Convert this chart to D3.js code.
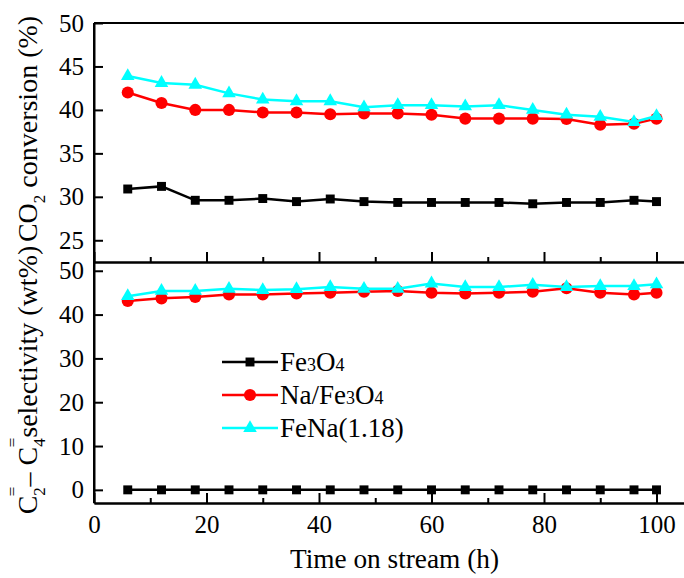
<!DOCTYPE html>
<html>
<head>
<meta charset="utf-8">
<script src="https://cdn.jsdelivr.net/npm/d3@7"></script>
<style>
  html, body { margin: 0; padding: 0; background: #fff; }
  svg text { font-family: "Liberation Serif", "Times New Roman", Times, "DejaVu Serif", serif !important; }
  .axis path, .axis line { stroke: #000; stroke-width: 2; }
  .axis text { font-size: 25px; fill: #000; }
</style>
</head>
<body>
<svg id="chart"></svg>
<script>
// time on stream (h) and the values
const times = [6, 12, 18, 24, 30, 36, 42, 48, 54, 60, 66, 72, 78, 84, 90, 96, 100];

const co2Fe3O4   = [30.9, 31.2, 29.6, 29.6, 29.8, 29.45, 29.75, 29.45, 29.35, 29.35, 29.35, 29.35, 29.2, 29.35, 29.35, 29.6, 29.45];
const co2NaFe3O4 = [42.0, 40.8, 40.0, 40.0, 39.7, 39.7, 39.5, 39.6, 39.6, 39.45, 39.0, 39.0, 39.0, 38.95, 38.3, 38.4, 39.0];
const co2FeNa    = [43.9, 43.1, 42.9, 41.9, 41.2, 41.0, 41.0, 40.3, 40.55, 40.55, 40.4, 40.55, 40.0, 39.45, 39.2, 38.6, 39.3];

const selFe3O4   = [0, 0, 0, 0, 0, 0, 0, 0, 0, 0, 0, 0, 0, 0, 0, 0, 0];
const selNaFe3O4 = [43.1, 43.7, 44.0, 44.6, 44.6, 44.8, 45.0, 45.2, 45.4, 45.0, 44.8, 45.0, 45.2, 46.0, 45.0, 44.6, 45.0];
const selFeNa    = [44.2, 45.4, 45.4, 45.9, 45.6, 45.8, 46.3, 45.9, 45.9, 47.1, 46.3, 46.3, 46.8, 46.3, 46.5, 46.5, 46.9];

const xTicks = [0, 20, 40, 60, 80, 100];
const xMinorTicks = [10, 30, 50, 70, 90];
const topYTicks = [25, 30, 35, 40, 45, 50];
const bottomYTicks = [0, 10, 20, 30, 40, 50];

const seriesNames = ["Fe3O4", "Na/Fe3O4", "FeNa(1.18)"];

const WIDTH = 684, HEIGHT = 578;
const LEFT = 94, RIGHT = 684;
const TOP = 23, MID = 262, BOTTOM = 503;

const colors = ["#000000", "#ff0000", "#00ffff"];
const symbols = [d3.symbolSquare, d3.symbolCircle, d3.symbolTriangle];
const symbolSizes = [80, 115, 80];

const svg = d3.select("#chart").attr("width", WIDTH).attr("height", HEIGHT);

const x = d3.scaleLinear().domain([0, 105]).range([LEFT, LEFT + 105 * 5.625]);
const yTop = d3.scaleLinear().domain([22.5, 50]).range([MID, TOP]);
const yBottom = d3.scaleLinear().domain([-3, 52]).range([BOTTOM, MID]);

// frame: top edge (the right edge falls outside the picture)
svg.append("line").attr("x1", LEFT).attr("x2", RIGHT).attr("y1", TOP).attr("y2", TOP)
  .attr("stroke", "#000").attr("stroke-width", 2);

// left axes with inward ticks
svg.append("g").attr("class", "axis").attr("transform", `translate(${LEFT},0)`)
  .call(d3.axisLeft(yTop).tickValues(topYTicks).tickSize(-9).tickSizeOuter(0).tickPadding(10));
svg.append("g").attr("class", "axis").attr("transform", `translate(${LEFT},0)`)
  .call(d3.axisLeft(yBottom).tickValues(bottomYTicks).tickSize(-9).tickSizeOuter(0).tickPadding(10));
svg.append("line").attr("x1", LEFT).attr("x2", LEFT).attr("y1", TOP).attr("y2", BOTTOM)
  .attr("stroke", "#000").attr("stroke-width", 2);

// x axis under the top panel (ticks only) and under the bottom panel
svg.append("g").attr("class", "axis").attr("transform", `translate(0,${MID})`)
  .call(d3.axisBottom(x).tickValues(xTicks).tickSize(-10).tickSizeOuter(0).tickFormat(""));
svg.append("g").attr("class", "axis").attr("transform", `translate(0,${MID})`)
  .call(d3.axisBottom(x).tickValues(xMinorTicks).tickSize(-5).tickSizeOuter(0).tickFormat(""));
svg.append("g").attr("class", "axis").attr("transform", `translate(0,${BOTTOM})`)
  .call(d3.axisBottom(x).tickValues(xTicks).tickSize(-10).tickSizeOuter(0).tickPadding(12));
svg.append("g").attr("class", "axis").attr("transform", `translate(0,${BOTTOM})`)
  .call(d3.axisBottom(x).tickValues(xMinorTicks).tickSize(-5).tickSizeOuter(0).tickFormat(""));

// series
function drawSeries(values, y, i) {
  const pts = times.map((t, k) => [t, values[k]]);
  svg.append("path")
    .datum(pts)
    .attr("fill", "none")
    .attr("stroke", colors[i])
    .attr("stroke-width", 2.5)
    .attr("d", d3.line().x(d => x(d[0])).y(d => y(d[1])));
  svg.append("g").selectAll("path")
    .data(pts)
    .enter()
    .append("path")
    .attr("transform", d => `translate(${x(d[0])},${y(d[1])})`)
    .attr("d", d3.symbol().type(symbols[i]).size(symbolSizes[i]))
    .attr("fill", colors[i]);
}

[co2Fe3O4, co2NaFe3O4, co2FeNa].forEach((v, i) => drawSeries(v, yTop, i));
[selFe3O4, selNaFe3O4, selFeNa].forEach((v, i) => drawSeries(v, yBottom, i));

// legend
const legendY = [362, 395, 428];
const legend = svg.append("g");
seriesNames.forEach((name, i) => {
  const row = legend.append("g").attr("transform", `translate(0,${legendY[i]})`);
  row.append("line").attr("x1", 222).attr("x2", 278).attr("y1", 0).attr("y2", 0)
    .attr("stroke", colors[i]).attr("stroke-width", 2.5);
  row.append("path").attr("transform", "translate(250,0)")
    .attr("d", d3.symbol().type(symbols[i]).size(symbolSizes[i]))
    .attr("fill", colors[i]);
  const t = row.append("text").attr("x", 280).attr("y", 9)
    .attr("font-size", 27).attr("fill", "#000");
  // the digits in Fe3O4 are drawn smaller, sitting on the baseline
  name.split(/(\d(?![\.\d)]))/).forEach(part => {
    if (!part) return;
    const small = /^\d$/.test(part) && name !== "FeNa(1.18)";
    t.append("tspan").attr("font-size", small ? 18 : 27).text(part);
  });
});

// axis titles
svg.append("text")
  .attr("x", 394.5).attr("y", 568)
  .attr("text-anchor", "middle").attr("font-size", 27.3)
  .text("Time on stream (h)");

const topLabel = svg.append("text")
  .attr("transform", "translate(37,129) rotate(-90)")
  .attr("text-anchor", "middle").attr("font-size", 28);
topLabel.append("tspan").text("CO");
topLabel.append("tspan").attr("font-size", 17).attr("dy", 8).text("2");
topLabel.append("tspan").attr("dy", -8).text(" conversion (%)");

const bottomLabel = svg.append("text")
  .attr("transform", "translate(37,380) rotate(-90)")
  .attr("text-anchor", "middle").attr("font-size", 28);
bottomLabel.append("tspan").text("C");
bottomLabel.append("tspan").attr("font-size", 17).attr("dy", 8).text("2");
bottomLabel.append("tspan").attr("font-size", 17).attr("dx", -9).attr("dy", -27).text("=");
bottomLabel.append("tspan").attr("dy", 19).text("\u2013 C");
bottomLabel.append("tspan").attr("font-size", 17).attr("dy", 8).text("4");
bottomLabel.append("tspan").attr("font-size", 17).attr("dx", -9).attr("dy", -27).text("=");
bottomLabel.append("tspan").attr("dy", 19).text("selectivity (wt%)");
</script>
</body>
</html>
